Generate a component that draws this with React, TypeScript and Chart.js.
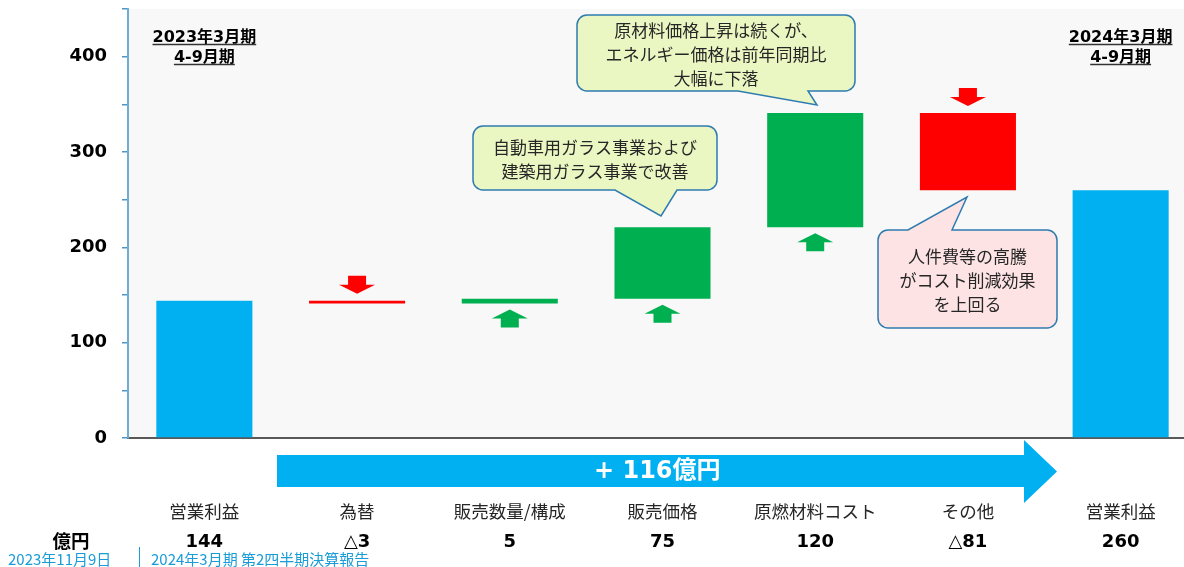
import React, { useEffect, useRef } from "react";
import { Chart, registerables } from "chart.js";

Chart.register(...registerables);

const categories = ["営業利益", "為替", "販売数量/構成", "販売価格", "原燃材料コスト", "その他", "営業利益"];
const startValue = 144;
const deltas = [-3, 5, 75, 120, -81];
const endValue = 260;
const valueLabels = ["144", "△3", "5", "75", "120", "△81", "260"];
const yMax = 450;
const yStep = 50;
const yLabelStep = 100;
const headerLeft = ["2023年3月期", "4-9月期"];
const headerRight = ["2024年3月期", "4-9月期"];
const calloutGreen1 = ["自動車用ガラス事業および", "建築用ガラス事業で改善"];
const calloutGreen2 = ["原材料価格上昇は続くが、", "エネルギー価格は前年同期比", "大幅に下落"];
const calloutPink = ["人件費等の高騰", "がコスト削減効果", "を上回る"];
const totalChangeLabel = "+ 116億円";
const unitLabel = "億円";
const footerDate = "2023年11月9日";
const footerTitle = "2024年3月期 第2四半期決算報告";

const BLUE = "#00b0f0";
const GREEN = "#00b050";
const RED = "#ff0000";
const JP = '"Noto Sans CJK JP", sans-serif';
const NUM = '"DejaVu Sans", "Noto Sans CJK JP", sans-serif';

// build floating bars
const barData: [number, number][] = [];
const barColors: string[] = [];
{
  let cum = startValue;
  barData.push([0, startValue]);
  barColors.push(BLUE);
  for (const d of deltas) {
    barData.push(d >= 0 ? [cum, cum + d] : [cum + d, cum]);
    barColors.push(d >= 0 ? GREEN : RED);
    cum += d;
  }
  barData.push([0, endValue]);
  barColors.push(BLUE);
}

function bubble(
  ctx: CanvasRenderingContext2D,
  x0: number, y0: number, x1: number, y1: number,
  tail: { edge: "top" | "bottom"; a: number; b: number; tx: number; ty: number },
  fill: string, lines: string[], lineY0: number, lineH: number
) {
  const r = 10;
  ctx.save();
  ctx.beginPath();
  ctx.moveTo(x0 + r, y0);
  if (tail.edge === "top") {
    ctx.lineTo(tail.a, y0);
    ctx.lineTo(tail.tx, tail.ty);
    ctx.lineTo(tail.b, y0);
  }
  ctx.lineTo(x1 - r, y0);
  ctx.arcTo(x1, y0, x1, y0 + r, r);
  ctx.lineTo(x1, y1 - r);
  ctx.arcTo(x1, y1, x1 - r, y1, r);
  if (tail.edge === "bottom") {
    ctx.lineTo(tail.b, y1);
    ctx.lineTo(tail.tx, tail.ty);
    ctx.lineTo(tail.a, y1);
  }
  ctx.lineTo(x0 + r, y1);
  ctx.arcTo(x0, y1, x0, y1 - r, r);
  ctx.lineTo(x0, y0 + r);
  ctx.arcTo(x0, y0, x0 + r, y0, r);
  ctx.closePath();
  ctx.fillStyle = fill;
  ctx.fill();
  ctx.strokeStyle = "#2e7bb0";
  ctx.lineWidth = 1.5;
  ctx.stroke();
  ctx.fillStyle = "#262626";
  ctx.font = `17px ${JP}`;
  ctx.textAlign = "center";
  ctx.textBaseline = "middle";
  const cx = (x0 + x1) / 2;
  lines.forEach((t, i) => ctx.fillText(t, cx, lineY0 + i * lineH));
  ctx.restore();
}

function smallArrow(ctx: CanvasRenderingContext2D, cx: number, tipY: number, up: boolean, color: string) {
  const hw = 18, sw = 9, hh = 9, sh = 9;
  const k = up ? 1 : -1;
  ctx.save();
  ctx.fillStyle = color;
  ctx.beginPath();
  ctx.moveTo(cx, tipY);
  ctx.lineTo(cx + hw, tipY + k * hh);
  ctx.lineTo(cx + sw, tipY + k * hh);
  ctx.lineTo(cx + sw, tipY + k * (hh + sh));
  ctx.lineTo(cx - sw, tipY + k * (hh + sh));
  ctx.lineTo(cx - sw, tipY + k * hh);
  ctx.lineTo(cx - hw, tipY + k * hh);
  ctx.closePath();
  ctx.fill();
  ctx.restore();
}

function header(ctx: CanvasRenderingContext2D, cx: number, lines: string[]) {
  ctx.save();
  ctx.font = `bold 16px ${NUM}`;
  ctx.fillStyle = "#000";
  ctx.textAlign = "center";
  ctx.textBaseline = "alphabetic";
  const ys = [42, 62];
  lines.forEach((t, i) => {
    ctx.fillText(t, cx, ys[i]);
    const w = ctx.measureText(t).width;
    ctx.strokeStyle = "#333";
    ctx.lineWidth = 1.3;
    ctx.beginPath();
    ctx.moveTo(cx - w / 2, ys[i] + 2.5);
    ctx.lineTo(cx + w / 2, ys[i] + 2.5);
    ctx.stroke();
  });
  ctx.restore();
}

const decorPlugin = {
  id: "decor",
  beforeDraw(chart: any) {
    const { ctx, chartArea } = chart;
    ctx.save();
    ctx.fillStyle = "#f8f8f8";
    ctx.fillRect(chartArea.left, chartArea.top, chartArea.right - chartArea.left, chartArea.bottom - chartArea.top);
    ctx.restore();
  },
  afterDraw(chart: any) {
    const { ctx } = chart;
    const xs = chart.scales.x;
    const ys = chart.scales.y;

    // small arrows on delta bars
    for (let i = 0; i < deltas.length; i++) {
      const idx = i + 1;
      const cx = xs.getPixelForValue(idx);
      const [lo, hi] = barData[idx];
      if (deltas[i] >= 0) {
        smallArrow(ctx, cx, ys.getPixelForValue(lo) + 6, true, GREEN);
      } else {
        smallArrow(ctx, cx, ys.getPixelForValue(hi) - 7, false, RED);
      }
    }

    // headers
    header(ctx, xs.getPixelForValue(0), headerLeft);
    header(ctx, xs.getPixelForValue(categories.length - 1), headerRight);

    // callouts
    bubble(ctx, 473, 126, 717, 190, { edge: "bottom", a: 615, b: 677, tx: 661, ty: 216 }, "#ebf7c3", calloutGreen1, 148, 24);
    bubble(ctx, 577, 15, 855, 91, { edge: "bottom", a: 738, b: 808, tx: 817, ty: 105 }, "#ebf7c3", calloutGreen2, 31, 24);
    bubble(ctx, 878, 230, 1057, 328, { edge: "top", a: 908, b: 952, tx: 967, ty: 197 }, "#fde3e3", calloutPink, 257, 24);

    // big arrow
    ctx.save();
    ctx.fillStyle = BLUE;
    ctx.beginPath();
    ctx.moveTo(277, 455);
    ctx.lineTo(1024, 455);
    ctx.lineTo(1024, 440);
    ctx.lineTo(1057, 471.5);
    ctx.lineTo(1024, 503);
    ctx.lineTo(1024, 487);
    ctx.lineTo(277, 487);
    ctx.closePath();
    ctx.fill();
    ctx.fillStyle = "#fff";
    ctx.font = `bold 24px ${NUM}`;
    ctx.textAlign = "left";
    ctx.textBaseline = "middle";
    ctx.fillText(totalChangeLabel, 594, 472);
    ctx.restore();

    // category and value labels
    ctx.save();
    ctx.textAlign = "center";
    ctx.textBaseline = "middle";
    categories.forEach((c, i) => {
      const x = xs.getPixelForValue(i);
      ctx.fillStyle = "#262626";
      ctx.font = `17.5px ${JP}`;
      ctx.fillText(c, x, 511);
      ctx.fillStyle = "#000";
      ctx.font = `bold 18px ${NUM}`;
      ctx.fillText(valueLabels[i], x, 542);
    });
    ctx.font = `bold 18.5px ${JP}`;
    ctx.fillText(unitLabel, 71, 541);
    ctx.restore();

    // footer
    ctx.save();
    ctx.fillStyle = "#1a9cd8";
    ctx.font = `15px ${JP}`;
    ctx.textAlign = "left";
    ctx.textBaseline = "middle";
    ctx.fillText(footerDate, 8, 559);
    ctx.fillText(footerTitle, 151, 559);
    ctx.strokeStyle = "#1a9cd8";
    ctx.lineWidth = 1;
    ctx.beginPath();
    ctx.moveTo(139.5, 547);
    ctx.lineTo(139.5, 567);
    ctx.stroke();
    ctx.restore();
  },
};

export default function App() {
  const ref = useRef<HTMLCanvasElement>(null);
  useEffect(() => {
    if (!ref.current) return;
    const chart = new Chart(ref.current, {
      type: "bar",
      data: {
        labels: categories,
        datasets: [
          {
            data: barData as any,
            backgroundColor: barColors,
            borderWidth: 0,
            borderSkipped: false,
            barPercentage: 0.629,
            categoryPercentage: 1,
          },
        ],
      },
      options: {
        responsive: false,
        maintainAspectRatio: false,
        devicePixelRatio: 1,
        animation: false,
        layout: { padding: { top: 9, right: 3, bottom: 129, left: 0 } },
        plugins: { legend: { display: false }, tooltip: { enabled: false } },
        scales: {
          x: {
            grid: { display: false },
            ticks: { display: false },
            border: { display: true, color: "#595959", width: 2 },
            afterFit: (s: any) => {
              s.height = 0;
              s.paddingLeft = 0;
              s.paddingRight = 0;
            },
          },
          y: {
            min: 0,
            max: yMax,
            afterFit: (s: any) => {
              s.width = 128;
              s.paddingTop = 0;
              s.paddingBottom = 0;
            },
            ticks: {
              stepSize: yStep,
              padding: 15,
              color: "#000",
              font: { family: NUM, size: 18, weight: "bold", lineHeight: 1 },
              callback: (v: any) => (v % yLabelStep === 0 && v < yMax ? String(v) : ""),
            },
            grid: {
              display: true,
              drawOnChartArea: false,
              drawTicks: true,
              tickLength: 6,
              color: "#4f96c4",
              lineWidth: 1.5,
            },
            border: { display: true, color: "#6aaed6", width: 2 },
          },
        },
      },
      plugins: [decorPlugin],
    });
    return () => chart.destroy();
  }, []);
  return (
    <div style={{ position: "fixed", left: 0, top: 0, width: 1184, height: 567, overflow: "hidden", background: "#fff" }}>
      <canvas ref={ref} width={1200} height={567} style={{ display: "block", width: 1200, height: 567 }} />
    </div>
  );
}
